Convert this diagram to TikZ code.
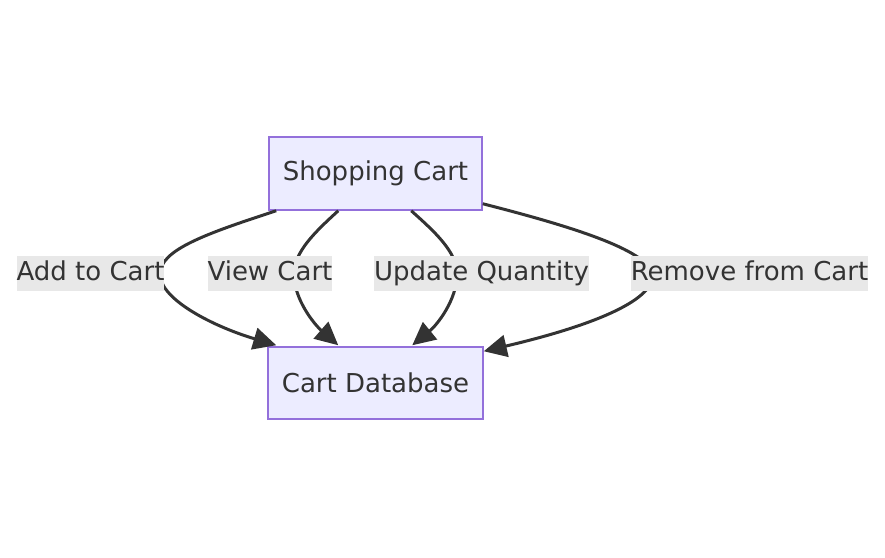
\documentclass[tikz,border=0pt]{standalone}
\usepackage{fontspec}
\setmainfont{DejaVu Sans}
\usetikzlibrary{arrows.meta}
\definecolor{nodefill}{HTML}{ECECFF}
\definecolor{nodeline}{HTML}{9370DB}
\definecolor{edgecol}{HTML}{333333}
\definecolor{lblfill}{HTML}{E8E8E8}
\definecolor{txtcol}{HTML}{333333}
\begin{document}
\begin{tikzpicture}[x=1pt,y=-1pt,
  box/.style={draw=nodeline,fill=nodefill,line width=1.5pt,minimum width=213pt,minimum height=73pt,inner sep=0pt,text=txtcol,font=\fontsize{26}{30}\selectfont},
  lbl/.style={fill=lblfill,inner xsep=0pt,inner ysep=0pt,minimum height=35pt,text=txtcol,font=\fontsize{26}{30}\selectfont,text height=20pt,text depth=6pt},
  edge/.style={draw=edgecol,line width=3pt,-{Triangle[length=23pt,width=22pt]}}]
\useasboundingbox (0,0) rectangle (885,557);
\node[box] (sc) at (375.5,173.5) {Shopping Cart};
\node[box,minimum width=215pt,minimum height=72pt] (db) at (375.5,383) {Cart Database};
% edges
\draw[edge] ([xshift=8pt]sc.south west) .. controls (205,234) and (160,250) .. (160,274) .. controls (160,300) and (215,327) .. ([xshift=9pt,yshift=1pt]db.north west);
\draw[edge] ([xshift=70pt]sc.south west) .. controls (315,232) and (294,252) .. (294,274) .. controls (294,300) and (315,325) .. ([xshift=71pt,yshift=1pt]db.north west);
\draw[edge] ([xshift=143pt]sc.south west) .. controls (435,232) and (457,252) .. (457,274) .. controls (457,300) and (437,325) .. ([xshift=145pt,yshift=1pt]db.north west);
\draw[edge] ([yshift=7pt]sc.south east) .. controls (570,226) and (648,250) .. (652,274) .. controls (656,298) and (600,324) .. ([yshift=-5pt]db.north east);
% labels
\node[lbl] (l1) at (90.5,273.5) {Add to Cart};
\node[lbl] (l2) at (270,273.5) {View Cart};
\node[lbl] (l3) at (481.5,273.5) {Update Quantity};
\node[lbl] (l4) at (749.5,273.5) {Remove from Cart};
\end{tikzpicture}
\end{document}
